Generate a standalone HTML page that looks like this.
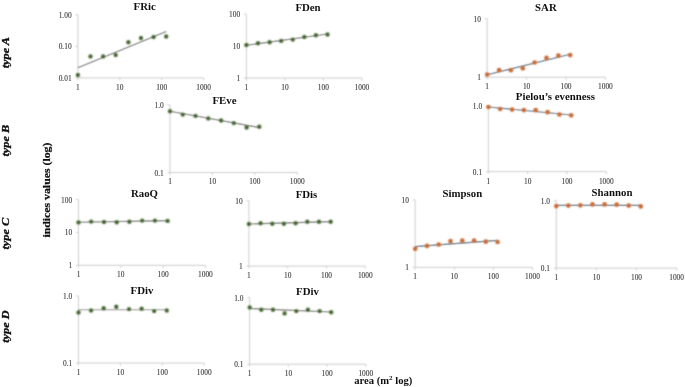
<!DOCTYPE html>
<html><head><meta charset="utf-8"><style>
html,body{margin:0;padding:0;background:#fff;}
body{width:685px;height:387px;overflow:hidden;position:relative;}
svg{position:absolute;left:0;top:0;}
.t{font-family:"Liberation Serif",serif;font-size:7.4px;fill:#444444;stroke:#444444;stroke-width:0.12px;}
.h{font-family:"Liberation Serif",serif;font-size:10.8px;font-weight:bold;fill:#111;}
.ty{font-family:"Liberation Serif",serif;font-size:12.3px;font-weight:bold;font-style:italic;fill:#111;stroke:#111;stroke-width:0.35px;}
.yl{font-family:"Liberation Serif",serif;font-size:11.8px;font-weight:bold;fill:#111;stroke:#111;stroke-width:0.25px;}
.xl{font-family:"Liberation Serif",serif;font-size:10.6px;font-weight:bold;fill:#111;}
</style></head><body>
<svg width="685" height="387" viewBox="0 0 685 387">
<defs><filter id="bl" x="0" y="0" width="1" height="1"><feConvolveMatrix order="3" kernelMatrix="1 3 1 3 9 3 1 3 1" edgeMode="duplicate" preserveAlpha="true"/></filter>
<filter id="tb" x="0" y="0" width="1" height="1"><feConvolveMatrix order="3" kernelMatrix="0 1 0 1 10 1 0 1 0" edgeMode="duplicate" preserveAlpha="true"/></filter></defs>
<g filter="url(#bl)">
<rect width="685" height="387" fill="#fff"/>
<line x1="77.9" y1="14.7" x2="77.9" y2="77.9" stroke="#cccccc" stroke-width="1"/>
<line x1="77.9" y1="77.9" x2="203.6" y2="77.9" stroke="#cccccc" stroke-width="1"/>
<line x1="75.4" y1="77.9" x2="77.9" y2="77.9" stroke="#cccccc" stroke-width="1"/>
<line x1="75.4" y1="46.3" x2="77.9" y2="46.3" stroke="#cccccc" stroke-width="1"/>
<line x1="75.4" y1="14.7" x2="77.9" y2="14.7" stroke="#cccccc" stroke-width="1"/>
<line x1="77.9" y1="77.9" x2="77.9" y2="80.4" stroke="#cccccc" stroke-width="1"/>
<line x1="119.8" y1="77.9" x2="119.8" y2="80.4" stroke="#cccccc" stroke-width="1"/>
<line x1="161.7" y1="77.9" x2="161.7" y2="80.4" stroke="#cccccc" stroke-width="1"/>
<line x1="203.6" y1="77.9" x2="203.6" y2="80.4" stroke="#cccccc" stroke-width="1"/>
<line x1="77.9" y1="67.8" x2="166.2" y2="31.5" stroke="#666666" stroke-width="1.15"/>
<circle cx="77.9" cy="75.0" r="3.1" fill="#9bc070" fill-opacity="0.2"/>
<circle cx="77.9" cy="75.0" r="2.2" fill="#486c37"/>
<circle cx="90.5" cy="56.4" r="3.1" fill="#9bc070" fill-opacity="0.2"/>
<circle cx="90.5" cy="56.4" r="2.2" fill="#486c37"/>
<circle cx="103.1" cy="56.4" r="3.1" fill="#9bc070" fill-opacity="0.2"/>
<circle cx="103.1" cy="56.4" r="2.2" fill="#486c37"/>
<circle cx="115.7" cy="55.1" r="3.1" fill="#9bc070" fill-opacity="0.2"/>
<circle cx="115.7" cy="55.1" r="2.2" fill="#486c37"/>
<circle cx="128.4" cy="42.2" r="3.1" fill="#9bc070" fill-opacity="0.2"/>
<circle cx="128.4" cy="42.2" r="2.2" fill="#486c37"/>
<circle cx="141.0" cy="38.0" r="3.1" fill="#9bc070" fill-opacity="0.2"/>
<circle cx="141.0" cy="38.0" r="2.2" fill="#486c37"/>
<circle cx="153.6" cy="37.0" r="3.1" fill="#9bc070" fill-opacity="0.2"/>
<circle cx="153.6" cy="37.0" r="2.2" fill="#486c37"/>
<circle cx="166.2" cy="36.5" r="3.1" fill="#9bc070" fill-opacity="0.2"/>
<circle cx="166.2" cy="36.5" r="2.2" fill="#486c37"/>
<line x1="246.4" y1="14.2" x2="246.4" y2="78.0" stroke="#cccccc" stroke-width="1"/>
<line x1="246.4" y1="78.0" x2="361.9" y2="78.0" stroke="#cccccc" stroke-width="1"/>
<line x1="243.9" y1="78.0" x2="246.4" y2="78.0" stroke="#cccccc" stroke-width="1"/>
<line x1="243.9" y1="46.1" x2="246.4" y2="46.1" stroke="#cccccc" stroke-width="1"/>
<line x1="243.9" y1="14.2" x2="246.4" y2="14.2" stroke="#cccccc" stroke-width="1"/>
<line x1="246.4" y1="78.0" x2="246.4" y2="80.5" stroke="#cccccc" stroke-width="1"/>
<line x1="284.9" y1="78.0" x2="284.9" y2="80.5" stroke="#cccccc" stroke-width="1"/>
<line x1="323.4" y1="78.0" x2="323.4" y2="80.5" stroke="#cccccc" stroke-width="1"/>
<line x1="361.9" y1="78.0" x2="361.9" y2="80.5" stroke="#cccccc" stroke-width="1"/>
<line x1="246.4" y1="45.3" x2="327.5" y2="34.0" stroke="#666666" stroke-width="1.15"/>
<circle cx="246.4" cy="45.0" r="3.1" fill="#9bc070" fill-opacity="0.2"/>
<circle cx="246.4" cy="45.0" r="2.2" fill="#486c37"/>
<circle cx="258.0" cy="43.2" r="3.1" fill="#9bc070" fill-opacity="0.2"/>
<circle cx="258.0" cy="43.2" r="2.2" fill="#486c37"/>
<circle cx="269.6" cy="42.2" r="3.1" fill="#9bc070" fill-opacity="0.2"/>
<circle cx="269.6" cy="42.2" r="2.2" fill="#486c37"/>
<circle cx="281.2" cy="40.9" r="3.1" fill="#9bc070" fill-opacity="0.2"/>
<circle cx="281.2" cy="40.9" r="2.2" fill="#486c37"/>
<circle cx="292.8" cy="39.6" r="3.1" fill="#9bc070" fill-opacity="0.2"/>
<circle cx="292.8" cy="39.6" r="2.2" fill="#486c37"/>
<circle cx="304.3" cy="37.0" r="3.1" fill="#9bc070" fill-opacity="0.2"/>
<circle cx="304.3" cy="37.0" r="2.2" fill="#486c37"/>
<circle cx="315.9" cy="35.3" r="3.1" fill="#9bc070" fill-opacity="0.2"/>
<circle cx="315.9" cy="35.3" r="2.2" fill="#486c37"/>
<circle cx="327.5" cy="34.5" r="3.1" fill="#9bc070" fill-opacity="0.2"/>
<circle cx="327.5" cy="34.5" r="2.2" fill="#486c37"/>
<line x1="487.2" y1="18.6" x2="487.2" y2="77.2" stroke="#cccccc" stroke-width="1"/>
<line x1="487.2" y1="77.2" x2="605.4" y2="77.2" stroke="#cccccc" stroke-width="1"/>
<line x1="484.7" y1="77.2" x2="487.2" y2="77.2" stroke="#cccccc" stroke-width="1"/>
<line x1="484.7" y1="18.6" x2="487.2" y2="18.6" stroke="#cccccc" stroke-width="1"/>
<line x1="487.2" y1="77.2" x2="487.2" y2="79.7" stroke="#cccccc" stroke-width="1"/>
<line x1="526.6" y1="77.2" x2="526.6" y2="79.7" stroke="#cccccc" stroke-width="1"/>
<line x1="566.0" y1="77.2" x2="566.0" y2="79.7" stroke="#cccccc" stroke-width="1"/>
<line x1="605.4" y1="77.2" x2="605.4" y2="79.7" stroke="#cccccc" stroke-width="1"/>
<line x1="487.2" y1="74.8" x2="570.2" y2="54.3" stroke="#3e5e74" stroke-width="1.15"/>
<circle cx="487.2" cy="74.5" r="3.1" fill="#f0a060" fill-opacity="0.2"/>
<circle cx="487.2" cy="74.5" r="2.35" fill="#cb6f37"/>
<circle cx="499.1" cy="70.2" r="3.1" fill="#f0a060" fill-opacity="0.2"/>
<circle cx="499.1" cy="70.2" r="2.35" fill="#cb6f37"/>
<circle cx="510.9" cy="70.2" r="3.1" fill="#f0a060" fill-opacity="0.2"/>
<circle cx="510.9" cy="70.2" r="2.35" fill="#cb6f37"/>
<circle cx="522.8" cy="68.3" r="3.1" fill="#f0a060" fill-opacity="0.2"/>
<circle cx="522.8" cy="68.3" r="2.35" fill="#cb6f37"/>
<circle cx="534.6" cy="62.5" r="3.1" fill="#f0a060" fill-opacity="0.2"/>
<circle cx="534.6" cy="62.5" r="2.35" fill="#cb6f37"/>
<circle cx="546.5" cy="57.9" r="3.1" fill="#f0a060" fill-opacity="0.2"/>
<circle cx="546.5" cy="57.9" r="2.35" fill="#cb6f37"/>
<circle cx="558.4" cy="55.7" r="3.1" fill="#f0a060" fill-opacity="0.2"/>
<circle cx="558.4" cy="55.7" r="2.35" fill="#cb6f37"/>
<circle cx="570.2" cy="55.1" r="3.1" fill="#f0a060" fill-opacity="0.2"/>
<circle cx="570.2" cy="55.1" r="2.35" fill="#cb6f37"/>
<line x1="170.0" y1="105.0" x2="170.0" y2="172.5" stroke="#cccccc" stroke-width="1"/>
<line x1="170.0" y1="172.5" x2="297.2" y2="172.5" stroke="#cccccc" stroke-width="1"/>
<line x1="167.5" y1="172.5" x2="170.0" y2="172.5" stroke="#cccccc" stroke-width="1"/>
<line x1="167.5" y1="105.0" x2="170.0" y2="105.0" stroke="#cccccc" stroke-width="1"/>
<line x1="170.0" y1="172.5" x2="170.0" y2="175.0" stroke="#cccccc" stroke-width="1"/>
<line x1="212.4" y1="172.5" x2="212.4" y2="175.0" stroke="#cccccc" stroke-width="1"/>
<line x1="254.8" y1="172.5" x2="254.8" y2="175.0" stroke="#cccccc" stroke-width="1"/>
<line x1="297.2" y1="172.5" x2="297.2" y2="175.0" stroke="#cccccc" stroke-width="1"/>
<line x1="170.0" y1="111.2" x2="259.3" y2="127.6" stroke="#666666" stroke-width="1.15"/>
<circle cx="170.0" cy="111.2" r="3.1" fill="#9bc070" fill-opacity="0.2"/>
<circle cx="170.0" cy="111.2" r="2.2" fill="#486c37"/>
<circle cx="182.8" cy="114.6" r="3.1" fill="#9bc070" fill-opacity="0.2"/>
<circle cx="182.8" cy="114.6" r="2.2" fill="#486c37"/>
<circle cx="195.5" cy="115.9" r="3.1" fill="#9bc070" fill-opacity="0.2"/>
<circle cx="195.5" cy="115.9" r="2.2" fill="#486c37"/>
<circle cx="208.3" cy="118.4" r="3.1" fill="#9bc070" fill-opacity="0.2"/>
<circle cx="208.3" cy="118.4" r="2.2" fill="#486c37"/>
<circle cx="221.1" cy="120.5" r="3.1" fill="#9bc070" fill-opacity="0.2"/>
<circle cx="221.1" cy="120.5" r="2.2" fill="#486c37"/>
<circle cx="233.8" cy="123.1" r="3.1" fill="#9bc070" fill-opacity="0.2"/>
<circle cx="233.8" cy="123.1" r="2.2" fill="#486c37"/>
<circle cx="246.6" cy="127.5" r="3.1" fill="#9bc070" fill-opacity="0.2"/>
<circle cx="246.6" cy="127.5" r="2.2" fill="#486c37"/>
<circle cx="259.3" cy="126.7" r="3.1" fill="#9bc070" fill-opacity="0.2"/>
<circle cx="259.3" cy="126.7" r="2.2" fill="#486c37"/>
<line x1="488.4" y1="106.2" x2="488.4" y2="171.6" stroke="#cccccc" stroke-width="1"/>
<line x1="488.4" y1="171.6" x2="606.3" y2="171.6" stroke="#cccccc" stroke-width="1"/>
<line x1="485.9" y1="171.6" x2="488.4" y2="171.6" stroke="#cccccc" stroke-width="1"/>
<line x1="485.9" y1="106.2" x2="488.4" y2="106.2" stroke="#cccccc" stroke-width="1"/>
<line x1="488.4" y1="171.6" x2="488.4" y2="174.1" stroke="#cccccc" stroke-width="1"/>
<line x1="527.7" y1="171.6" x2="527.7" y2="174.1" stroke="#cccccc" stroke-width="1"/>
<line x1="567.0" y1="171.6" x2="567.0" y2="174.1" stroke="#cccccc" stroke-width="1"/>
<line x1="606.3" y1="171.6" x2="606.3" y2="174.1" stroke="#cccccc" stroke-width="1"/>
<line x1="488.4" y1="107.0" x2="571.2" y2="115.0" stroke="#3e5e74" stroke-width="1.15"/>
<circle cx="488.4" cy="107.0" r="3.1" fill="#f0a060" fill-opacity="0.2"/>
<circle cx="488.4" cy="107.0" r="2.35" fill="#cb6f37"/>
<circle cx="500.2" cy="109.0" r="3.1" fill="#f0a060" fill-opacity="0.2"/>
<circle cx="500.2" cy="109.0" r="2.35" fill="#cb6f37"/>
<circle cx="512.1" cy="109.6" r="3.1" fill="#f0a060" fill-opacity="0.2"/>
<circle cx="512.1" cy="109.6" r="2.35" fill="#cb6f37"/>
<circle cx="523.9" cy="110.1" r="3.1" fill="#f0a060" fill-opacity="0.2"/>
<circle cx="523.9" cy="110.1" r="2.35" fill="#cb6f37"/>
<circle cx="535.7" cy="110.2" r="3.1" fill="#f0a060" fill-opacity="0.2"/>
<circle cx="535.7" cy="110.2" r="2.35" fill="#cb6f37"/>
<circle cx="547.6" cy="112.2" r="3.1" fill="#f0a060" fill-opacity="0.2"/>
<circle cx="547.6" cy="112.2" r="2.35" fill="#cb6f37"/>
<circle cx="559.4" cy="114.5" r="3.1" fill="#f0a060" fill-opacity="0.2"/>
<circle cx="559.4" cy="114.5" r="2.35" fill="#cb6f37"/>
<circle cx="571.2" cy="115.3" r="3.1" fill="#f0a060" fill-opacity="0.2"/>
<circle cx="571.2" cy="115.3" r="2.35" fill="#cb6f37"/>
<line x1="78.5" y1="199.5" x2="78.5" y2="265.3" stroke="#cccccc" stroke-width="1"/>
<line x1="78.5" y1="265.3" x2="205.4" y2="265.3" stroke="#cccccc" stroke-width="1"/>
<line x1="76.0" y1="265.3" x2="78.5" y2="265.3" stroke="#cccccc" stroke-width="1"/>
<line x1="76.0" y1="232.4" x2="78.5" y2="232.4" stroke="#cccccc" stroke-width="1"/>
<line x1="76.0" y1="199.5" x2="78.5" y2="199.5" stroke="#cccccc" stroke-width="1"/>
<line x1="78.5" y1="265.3" x2="78.5" y2="267.8" stroke="#cccccc" stroke-width="1"/>
<line x1="120.8" y1="265.3" x2="120.8" y2="267.8" stroke="#cccccc" stroke-width="1"/>
<line x1="163.1" y1="265.3" x2="163.1" y2="267.8" stroke="#cccccc" stroke-width="1"/>
<line x1="205.4" y1="265.3" x2="205.4" y2="267.8" stroke="#cccccc" stroke-width="1"/>
<line x1="78.5" y1="222.3" x2="167.6" y2="220.6" stroke="#666666" stroke-width="1.15"/>
<circle cx="78.5" cy="222.4" r="3.1" fill="#9bc070" fill-opacity="0.2"/>
<circle cx="78.5" cy="222.4" r="2.2" fill="#486c37"/>
<circle cx="91.2" cy="221.6" r="3.1" fill="#9bc070" fill-opacity="0.2"/>
<circle cx="91.2" cy="221.6" r="2.2" fill="#486c37"/>
<circle cx="104.0" cy="222.0" r="3.1" fill="#9bc070" fill-opacity="0.2"/>
<circle cx="104.0" cy="222.0" r="2.2" fill="#486c37"/>
<circle cx="116.7" cy="222.2" r="3.1" fill="#9bc070" fill-opacity="0.2"/>
<circle cx="116.7" cy="222.2" r="2.2" fill="#486c37"/>
<circle cx="129.4" cy="221.8" r="3.1" fill="#9bc070" fill-opacity="0.2"/>
<circle cx="129.4" cy="221.8" r="2.2" fill="#486c37"/>
<circle cx="142.2" cy="220.6" r="3.1" fill="#9bc070" fill-opacity="0.2"/>
<circle cx="142.2" cy="220.6" r="2.2" fill="#486c37"/>
<circle cx="154.9" cy="220.6" r="3.1" fill="#9bc070" fill-opacity="0.2"/>
<circle cx="154.9" cy="220.6" r="2.2" fill="#486c37"/>
<circle cx="167.6" cy="220.9" r="3.1" fill="#9bc070" fill-opacity="0.2"/>
<circle cx="167.6" cy="220.9" r="2.2" fill="#486c37"/>
<line x1="248.9" y1="200.5" x2="248.9" y2="266.1" stroke="#cccccc" stroke-width="1"/>
<line x1="248.9" y1="266.1" x2="365.3" y2="266.1" stroke="#cccccc" stroke-width="1"/>
<line x1="246.4" y1="266.1" x2="248.9" y2="266.1" stroke="#cccccc" stroke-width="1"/>
<line x1="246.4" y1="200.5" x2="248.9" y2="200.5" stroke="#cccccc" stroke-width="1"/>
<line x1="248.9" y1="266.1" x2="248.9" y2="268.6" stroke="#cccccc" stroke-width="1"/>
<line x1="287.7" y1="266.1" x2="287.7" y2="268.6" stroke="#cccccc" stroke-width="1"/>
<line x1="326.5" y1="266.1" x2="326.5" y2="268.6" stroke="#cccccc" stroke-width="1"/>
<line x1="365.3" y1="266.1" x2="365.3" y2="268.6" stroke="#cccccc" stroke-width="1"/>
<line x1="248.9" y1="224.0" x2="330.7" y2="221.6" stroke="#666666" stroke-width="1.15"/>
<circle cx="248.9" cy="224.0" r="3.1" fill="#9bc070" fill-opacity="0.2"/>
<circle cx="248.9" cy="224.0" r="2.2" fill="#486c37"/>
<circle cx="260.6" cy="223.2" r="3.1" fill="#9bc070" fill-opacity="0.2"/>
<circle cx="260.6" cy="223.2" r="2.2" fill="#486c37"/>
<circle cx="272.3" cy="223.8" r="3.1" fill="#9bc070" fill-opacity="0.2"/>
<circle cx="272.3" cy="223.8" r="2.2" fill="#486c37"/>
<circle cx="283.9" cy="223.8" r="3.1" fill="#9bc070" fill-opacity="0.2"/>
<circle cx="283.9" cy="223.8" r="2.2" fill="#486c37"/>
<circle cx="295.6" cy="223.2" r="3.1" fill="#9bc070" fill-opacity="0.2"/>
<circle cx="295.6" cy="223.2" r="2.2" fill="#486c37"/>
<circle cx="307.3" cy="221.8" r="3.1" fill="#9bc070" fill-opacity="0.2"/>
<circle cx="307.3" cy="221.8" r="2.2" fill="#486c37"/>
<circle cx="319.0" cy="221.8" r="3.1" fill="#9bc070" fill-opacity="0.2"/>
<circle cx="319.0" cy="221.8" r="2.2" fill="#486c37"/>
<circle cx="330.7" cy="221.8" r="3.1" fill="#9bc070" fill-opacity="0.2"/>
<circle cx="330.7" cy="221.8" r="2.2" fill="#486c37"/>
<line x1="415.2" y1="199.9" x2="415.2" y2="267.3" stroke="#cccccc" stroke-width="1"/>
<line x1="415.2" y1="267.3" x2="532.5" y2="267.3" stroke="#cccccc" stroke-width="1"/>
<line x1="412.7" y1="267.3" x2="415.2" y2="267.3" stroke="#cccccc" stroke-width="1"/>
<line x1="412.7" y1="199.9" x2="415.2" y2="199.9" stroke="#cccccc" stroke-width="1"/>
<line x1="415.2" y1="267.3" x2="415.2" y2="269.8" stroke="#cccccc" stroke-width="1"/>
<line x1="454.3" y1="267.3" x2="454.3" y2="269.8" stroke="#cccccc" stroke-width="1"/>
<line x1="493.4" y1="267.3" x2="493.4" y2="269.8" stroke="#cccccc" stroke-width="1"/>
<line x1="532.5" y1="267.3" x2="532.5" y2="269.8" stroke="#cccccc" stroke-width="1"/>
<line x1="415.2" y1="246.6" x2="497.6" y2="240.4" stroke="#3e5e74" stroke-width="1.15"/>
<circle cx="415.2" cy="248.8" r="3.1" fill="#f0a060" fill-opacity="0.2"/>
<circle cx="415.2" cy="248.8" r="2.35" fill="#cb6f37"/>
<circle cx="427.0" cy="245.9" r="3.1" fill="#f0a060" fill-opacity="0.2"/>
<circle cx="427.0" cy="245.9" r="2.35" fill="#cb6f37"/>
<circle cx="438.7" cy="244.5" r="3.1" fill="#f0a060" fill-opacity="0.2"/>
<circle cx="438.7" cy="244.5" r="2.35" fill="#cb6f37"/>
<circle cx="450.5" cy="241.1" r="3.1" fill="#f0a060" fill-opacity="0.2"/>
<circle cx="450.5" cy="241.1" r="2.35" fill="#cb6f37"/>
<circle cx="462.3" cy="240.5" r="3.1" fill="#f0a060" fill-opacity="0.2"/>
<circle cx="462.3" cy="240.5" r="2.35" fill="#cb6f37"/>
<circle cx="474.1" cy="240.5" r="3.1" fill="#f0a060" fill-opacity="0.2"/>
<circle cx="474.1" cy="240.5" r="2.35" fill="#cb6f37"/>
<circle cx="485.8" cy="241.7" r="3.1" fill="#f0a060" fill-opacity="0.2"/>
<circle cx="485.8" cy="241.7" r="2.35" fill="#cb6f37"/>
<circle cx="497.6" cy="242.0" r="3.1" fill="#f0a060" fill-opacity="0.2"/>
<circle cx="497.6" cy="242.0" r="2.35" fill="#cb6f37"/>
<line x1="556.3" y1="200.7" x2="556.3" y2="268.1" stroke="#cccccc" stroke-width="1"/>
<line x1="556.3" y1="268.1" x2="676.6" y2="268.1" stroke="#cccccc" stroke-width="1"/>
<line x1="553.8" y1="268.1" x2="556.3" y2="268.1" stroke="#cccccc" stroke-width="1"/>
<line x1="553.8" y1="200.7" x2="556.3" y2="200.7" stroke="#cccccc" stroke-width="1"/>
<line x1="556.3" y1="268.1" x2="556.3" y2="270.6" stroke="#cccccc" stroke-width="1"/>
<line x1="596.4" y1="268.1" x2="596.4" y2="270.6" stroke="#cccccc" stroke-width="1"/>
<line x1="636.5" y1="268.1" x2="636.5" y2="270.6" stroke="#cccccc" stroke-width="1"/>
<line x1="676.6" y1="268.1" x2="676.6" y2="270.6" stroke="#cccccc" stroke-width="1"/>
<line x1="556.3" y1="205.3" x2="640.8" y2="205.3" stroke="#3e5e74" stroke-width="1.15"/>
<circle cx="556.3" cy="206.1" r="3.1" fill="#f0a060" fill-opacity="0.2"/>
<circle cx="556.3" cy="206.1" r="2.35" fill="#cb6f37"/>
<circle cx="568.4" cy="205.6" r="3.1" fill="#f0a060" fill-opacity="0.2"/>
<circle cx="568.4" cy="205.6" r="2.35" fill="#cb6f37"/>
<circle cx="580.4" cy="205.3" r="3.1" fill="#f0a060" fill-opacity="0.2"/>
<circle cx="580.4" cy="205.3" r="2.35" fill="#cb6f37"/>
<circle cx="592.5" cy="204.4" r="3.1" fill="#f0a060" fill-opacity="0.2"/>
<circle cx="592.5" cy="204.4" r="2.35" fill="#cb6f37"/>
<circle cx="604.6" cy="204.4" r="3.1" fill="#f0a060" fill-opacity="0.2"/>
<circle cx="604.6" cy="204.4" r="2.35" fill="#cb6f37"/>
<circle cx="616.7" cy="204.7" r="3.1" fill="#f0a060" fill-opacity="0.2"/>
<circle cx="616.7" cy="204.7" r="2.35" fill="#cb6f37"/>
<circle cx="628.7" cy="205.6" r="3.1" fill="#f0a060" fill-opacity="0.2"/>
<circle cx="628.7" cy="205.6" r="2.35" fill="#cb6f37"/>
<circle cx="640.8" cy="206.4" r="3.1" fill="#f0a060" fill-opacity="0.2"/>
<circle cx="640.8" cy="206.4" r="2.35" fill="#cb6f37"/>
<line x1="78.5" y1="296.0" x2="78.5" y2="363.0" stroke="#cccccc" stroke-width="1"/>
<line x1="78.5" y1="363.0" x2="204.2" y2="363.0" stroke="#cccccc" stroke-width="1"/>
<line x1="76.0" y1="363.0" x2="78.5" y2="363.0" stroke="#cccccc" stroke-width="1"/>
<line x1="76.0" y1="296.0" x2="78.5" y2="296.0" stroke="#cccccc" stroke-width="1"/>
<line x1="78.5" y1="363.0" x2="78.5" y2="365.5" stroke="#cccccc" stroke-width="1"/>
<line x1="120.4" y1="363.0" x2="120.4" y2="365.5" stroke="#cccccc" stroke-width="1"/>
<line x1="162.3" y1="363.0" x2="162.3" y2="365.5" stroke="#cccccc" stroke-width="1"/>
<line x1="204.2" y1="363.0" x2="204.2" y2="365.5" stroke="#cccccc" stroke-width="1"/>
<line x1="78.5" y1="309.7" x2="166.8" y2="309.7" stroke="#8f8f8f" stroke-width="1.15"/>
<circle cx="78.5" cy="312.5" r="3.1" fill="#9bc070" fill-opacity="0.2"/>
<circle cx="78.5" cy="312.5" r="2.2" fill="#486c37"/>
<circle cx="91.1" cy="310.5" r="3.1" fill="#9bc070" fill-opacity="0.2"/>
<circle cx="91.1" cy="310.5" r="2.2" fill="#486c37"/>
<circle cx="103.7" cy="308.3" r="3.1" fill="#9bc070" fill-opacity="0.2"/>
<circle cx="103.7" cy="308.3" r="2.2" fill="#486c37"/>
<circle cx="116.3" cy="306.8" r="3.1" fill="#9bc070" fill-opacity="0.2"/>
<circle cx="116.3" cy="306.8" r="2.2" fill="#486c37"/>
<circle cx="129.0" cy="309.1" r="3.1" fill="#9bc070" fill-opacity="0.2"/>
<circle cx="129.0" cy="309.1" r="2.2" fill="#486c37"/>
<circle cx="141.6" cy="308.8" r="3.1" fill="#9bc070" fill-opacity="0.2"/>
<circle cx="141.6" cy="308.8" r="2.2" fill="#486c37"/>
<circle cx="154.2" cy="311.1" r="3.1" fill="#9bc070" fill-opacity="0.2"/>
<circle cx="154.2" cy="311.1" r="2.2" fill="#486c37"/>
<circle cx="166.8" cy="310.5" r="3.1" fill="#9bc070" fill-opacity="0.2"/>
<circle cx="166.8" cy="310.5" r="2.2" fill="#486c37"/>
<line x1="249.7" y1="297.5" x2="249.7" y2="364.2" stroke="#cccccc" stroke-width="1"/>
<line x1="249.7" y1="364.2" x2="365.8" y2="364.2" stroke="#cccccc" stroke-width="1"/>
<line x1="247.2" y1="364.2" x2="249.7" y2="364.2" stroke="#cccccc" stroke-width="1"/>
<line x1="247.2" y1="297.5" x2="249.7" y2="297.5" stroke="#cccccc" stroke-width="1"/>
<line x1="249.7" y1="364.2" x2="249.7" y2="366.7" stroke="#cccccc" stroke-width="1"/>
<line x1="288.4" y1="364.2" x2="288.4" y2="366.7" stroke="#cccccc" stroke-width="1"/>
<line x1="327.1" y1="364.2" x2="327.1" y2="366.7" stroke="#cccccc" stroke-width="1"/>
<line x1="365.8" y1="364.2" x2="365.8" y2="366.7" stroke="#cccccc" stroke-width="1"/>
<line x1="249.7" y1="308.5" x2="331.2" y2="312.0" stroke="#666666" stroke-width="1.15"/>
<circle cx="249.7" cy="307.4" r="3.1" fill="#9bc070" fill-opacity="0.2"/>
<circle cx="249.7" cy="307.4" r="2.2" fill="#486c37"/>
<circle cx="261.3" cy="309.7" r="3.1" fill="#9bc070" fill-opacity="0.2"/>
<circle cx="261.3" cy="309.7" r="2.2" fill="#486c37"/>
<circle cx="273.0" cy="309.7" r="3.1" fill="#9bc070" fill-opacity="0.2"/>
<circle cx="273.0" cy="309.7" r="2.2" fill="#486c37"/>
<circle cx="284.6" cy="313.4" r="3.1" fill="#9bc070" fill-opacity="0.2"/>
<circle cx="284.6" cy="313.4" r="2.2" fill="#486c37"/>
<circle cx="296.3" cy="311.1" r="3.1" fill="#9bc070" fill-opacity="0.2"/>
<circle cx="296.3" cy="311.1" r="2.2" fill="#486c37"/>
<circle cx="307.9" cy="309.7" r="3.1" fill="#9bc070" fill-opacity="0.2"/>
<circle cx="307.9" cy="309.7" r="2.2" fill="#486c37"/>
<circle cx="319.6" cy="311.1" r="3.1" fill="#9bc070" fill-opacity="0.2"/>
<circle cx="319.6" cy="311.1" r="2.2" fill="#486c37"/>
<circle cx="331.2" cy="312.2" r="3.1" fill="#9bc070" fill-opacity="0.2"/>
<circle cx="331.2" cy="312.2" r="2.2" fill="#486c37"/>
</g>
<g filter="url(#tb)">
<rect width="685" height="387" fill="#fff" fill-opacity="0"/>
<text x="71.6" y="80.9" class="t" text-anchor="end">0.01</text>
<text x="71.6" y="49.3" class="t" text-anchor="end">0.10</text>
<text x="71.6" y="17.7" class="t" text-anchor="end">1.00</text>
<text x="77.9" y="89.8" class="t" text-anchor="middle">1</text>
<text x="119.8" y="89.8" class="t" text-anchor="middle">10</text>
<text x="161.7" y="89.8" class="t" text-anchor="middle">100</text>
<text x="203.6" y="89.8" class="t" text-anchor="middle">1000</text>
<text x="144.7" y="10.4" class="h" text-anchor="middle">FRic</text>
<text x="240.1" y="81.0" class="t" text-anchor="end">1</text>
<text x="240.1" y="49.1" class="t" text-anchor="end">10</text>
<text x="240.1" y="17.2" class="t" text-anchor="end">100</text>
<text x="246.4" y="89.9" class="t" text-anchor="middle">1</text>
<text x="284.9" y="89.9" class="t" text-anchor="middle">10</text>
<text x="323.4" y="89.9" class="t" text-anchor="middle">100</text>
<text x="361.9" y="89.9" class="t" text-anchor="middle">1000</text>
<text x="308.0" y="11.2" class="h" text-anchor="middle">FDen</text>
<text x="480.9" y="80.2" class="t" text-anchor="end">1</text>
<text x="480.9" y="21.6" class="t" text-anchor="end">10</text>
<text x="487.2" y="89.1" class="t" text-anchor="middle">1</text>
<text x="526.6" y="89.1" class="t" text-anchor="middle">10</text>
<text x="566.0" y="89.1" class="t" text-anchor="middle">100</text>
<text x="605.4" y="89.1" class="t" text-anchor="middle">1000</text>
<text x="545.9" y="10.7" class="h" text-anchor="middle">SAR</text>
<text x="163.7" y="175.5" class="t" text-anchor="end">0.1</text>
<text x="163.7" y="108.0" class="t" text-anchor="end">1.0</text>
<text x="170.0" y="184.4" class="t" text-anchor="middle">1</text>
<text x="212.4" y="184.4" class="t" text-anchor="middle">10</text>
<text x="254.8" y="184.4" class="t" text-anchor="middle">100</text>
<text x="297.2" y="184.4" class="t" text-anchor="middle">1000</text>
<text x="224.5" y="104.2" class="h" text-anchor="middle">FEve</text>
<text x="482.1" y="174.6" class="t" text-anchor="end">0.1</text>
<text x="482.1" y="109.2" class="t" text-anchor="end">1.0</text>
<text x="488.4" y="183.5" class="t" text-anchor="middle">1</text>
<text x="527.7" y="183.5" class="t" text-anchor="middle">10</text>
<text x="567.0" y="183.5" class="t" text-anchor="middle">100</text>
<text x="606.3" y="183.5" class="t" text-anchor="middle">1000</text>
<text x="555.4" y="99.7" class="h" text-anchor="middle">Pielou’s evenness</text>
<text x="72.2" y="268.3" class="t" text-anchor="end">1</text>
<text x="72.2" y="235.4" class="t" text-anchor="end">10</text>
<text x="72.2" y="202.5" class="t" text-anchor="end">100</text>
<text x="78.5" y="277.2" class="t" text-anchor="middle">1</text>
<text x="120.8" y="277.2" class="t" text-anchor="middle">10</text>
<text x="163.1" y="277.2" class="t" text-anchor="middle">100</text>
<text x="205.4" y="277.2" class="t" text-anchor="middle">1000</text>
<text x="144.5" y="197.3" class="h" text-anchor="middle">RaoQ</text>
<text x="242.6" y="269.1" class="t" text-anchor="end">1</text>
<text x="242.6" y="203.5" class="t" text-anchor="end">10</text>
<text x="248.9" y="278.0" class="t" text-anchor="middle">1</text>
<text x="287.7" y="278.0" class="t" text-anchor="middle">10</text>
<text x="326.5" y="278.0" class="t" text-anchor="middle">100</text>
<text x="365.3" y="278.0" class="t" text-anchor="middle">1000</text>
<text x="306.5" y="197.8" class="h" text-anchor="middle">FDis</text>
<text x="408.9" y="270.3" class="t" text-anchor="end">1</text>
<text x="408.9" y="202.9" class="t" text-anchor="end">10</text>
<text x="415.2" y="279.2" class="t" text-anchor="middle">1</text>
<text x="454.3" y="279.2" class="t" text-anchor="middle">10</text>
<text x="493.4" y="279.2" class="t" text-anchor="middle">100</text>
<text x="532.5" y="279.2" class="t" text-anchor="middle">1000</text>
<text x="462.4" y="196.6" class="h" text-anchor="middle">Simpson</text>
<text x="550.0" y="271.1" class="t" text-anchor="end">0.1</text>
<text x="550.0" y="203.7" class="t" text-anchor="end">1.0</text>
<text x="556.3" y="280.0" class="t" text-anchor="middle">1</text>
<text x="596.4" y="280.0" class="t" text-anchor="middle">10</text>
<text x="636.5" y="280.0" class="t" text-anchor="middle">100</text>
<text x="676.6" y="280.0" class="t" text-anchor="middle">1000</text>
<text x="612.0" y="196.0" class="h" text-anchor="middle">Shannon</text>
<text x="72.2" y="366.0" class="t" text-anchor="end">0.1</text>
<text x="72.2" y="299.0" class="t" text-anchor="end">1.0</text>
<text x="78.5" y="374.9" class="t" text-anchor="middle">1</text>
<text x="120.4" y="374.9" class="t" text-anchor="middle">10</text>
<text x="162.3" y="374.9" class="t" text-anchor="middle">100</text>
<text x="204.2" y="374.9" class="t" text-anchor="middle">1000</text>
<text x="142.0" y="294.1" class="h" text-anchor="middle">FDiv</text>
<text x="243.4" y="367.2" class="t" text-anchor="end">0.1</text>
<text x="243.4" y="300.5" class="t" text-anchor="end">1.0</text>
<text x="249.7" y="376.1" class="t" text-anchor="middle">1</text>
<text x="288.4" y="376.1" class="t" text-anchor="middle">10</text>
<text x="327.1" y="376.1" class="t" text-anchor="middle">100</text>
<text x="365.8" y="376.1" class="t" text-anchor="middle">1000</text>
<text x="307.5" y="294.9" class="h" text-anchor="middle">FDiv</text>
<text transform="translate(9.2 52.7) rotate(-90) scale(1 0.88)" class="ty" text-anchor="middle">type A</text>
<text transform="translate(9.2 140.7) rotate(-90) scale(1 0.88)" class="ty" text-anchor="middle">type B</text>
<text transform="translate(9.2 233.7) rotate(-90) scale(1 0.88)" class="ty" text-anchor="middle">type C</text>
<text transform="translate(9.2 326.6) rotate(-90) scale(1 0.88)" class="ty" text-anchor="middle">type D</text>
<text transform="translate(50.0 190.1) rotate(-90) scale(1 0.82)" class="yl" text-anchor="middle">indices values (log)</text>
<text x="383.3" y="383.8" class="xl" text-anchor="middle">area (m<tspan font-size="7" dy="-3.5">2</tspan><tspan dy="3.5"> log)</tspan></text>
</g>
</svg>
</body></html>
